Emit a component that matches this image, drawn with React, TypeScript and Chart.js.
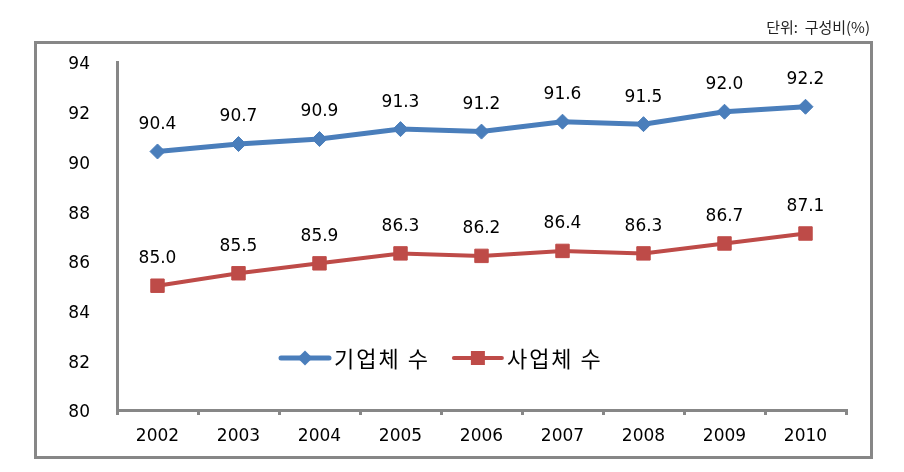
import React, { useEffect, useRef } from "react";
import { Chart, registerables } from "chart.js";

Chart.register(...registerables);

const categories = ["2002", "2003", "2004", "2005", "2006", "2007", "2008", "2009", "2010"];
const enterpriseCount = [90.4, 90.7, 90.9, 91.3, 91.2, 91.6, 91.5, 92.0, 92.2];
const establishmentCount = [85.0, 85.5, 85.9, 86.3, 86.2, 86.4, 86.3, 86.7, 87.1];
const seriesNames = ["기업체 수", "사업체 수"];
const yMin = 80;
const yMax = 94;
const yStep = 2;
const unitLabel = "단위:  구성비(%)";

const BLUE = "#4A7EBB";
const RED = "#BE4B48";
const GRAY = "#878787";
const NUM_FONT = "17px 'DejaVu Sans', Verdana, sans-serif";
const KR_FONT = "22px 'Noto Sans CJK KR', sans-serif";

const decorPlugin = {
  id: "decor",
  beforeDraw(chart: any) {
    const ctx = chart.ctx;
    ctx.save();
    ctx.fillStyle = "#ffffff";
    ctx.fillRect(0, 0, chart.width, chart.height);
    ctx.strokeStyle = GRAY;
    ctx.lineWidth = 3;
    ctx.strokeRect(35.5, 42.5, 836, 415);
    ctx.fillStyle = "#222";
    ctx.font = "15px 'Noto Sans CJK KR', sans-serif";
    ctx.textAlign = "right";
    ctx.textBaseline = "alphabetic";
    ctx.fillText(unitLabel, 870, 33);
    ctx.restore();
  },
  afterDatasetsDraw(chart: any) {
    const ctx = chart.ctx;
    ctx.save();
    ctx.font = NUM_FONT;
    ctx.fillStyle = "#000";
    ctx.textAlign = "center";
    ctx.textBaseline = "middle";
    chart.data.datasets.forEach((ds: any, di: number) => {
      const meta = chart.getDatasetMeta(di);
      meta.data.forEach((pt: any, i: number) => {
        ctx.fillText(Number(ds.data[i]).toFixed(1), pt.x, pt.y - 27);
      });
    });

    // legend
    const area = chart.chartArea;
    const ly = area.bottom - 52;
    let lx = area.left + 164;
    chart.data.datasets.forEach((ds: any) => {
      ctx.strokeStyle = ds.borderColor;
      ctx.lineWidth = ds.borderWidth;
      ctx.lineCap = "round";
      ctx.beginPath();
      ctx.moveTo(lx, ly);
      ctx.lineTo(lx + 48, ly);
      ctx.stroke();
      const cx = lx + 24;
      ctx.fillStyle = ds.pointBackgroundColor;
      ctx.beginPath();
      if (ds.pointStyle === "rectRot") {
        const r = 7.5;
        ctx.moveTo(cx - r, ly);
        ctx.lineTo(cx, ly - r);
        ctx.lineTo(cx + r, ly);
        ctx.lineTo(cx, ly + r);
        ctx.closePath();
      } else {
        ctx.rect(cx - 7, ly - 7, 14, 14);
      }
      ctx.fill();
      ctx.fillStyle = "#000";
      ctx.font = KR_FONT;
      (ctx as any).letterSpacing = "2px";
      ctx.textAlign = "left";
      ctx.textBaseline = "middle";
      ctx.fillText(ds.label, lx + 53, ly + 1);
      const w = ctx.measureText(ds.label).width;
      (ctx as any).letterSpacing = "0px";
      lx += 53 + w + 24;
    });
    ctx.restore();
  },
};

export default function App() {
  const ref = useRef<HTMLCanvasElement>(null);
  useEffect(() => {
    if (!ref.current) return;
    const chart = new Chart(ref.current, {
      type: "line",
      data: {
        labels: categories,
        datasets: [
          {
            label: seriesNames[0],
            data: enterpriseCount,
            borderColor: BLUE,
            backgroundColor: BLUE,
            pointBackgroundColor: BLUE,
            pointBorderColor: BLUE,
            borderWidth: 5,
            pointStyle: "rectRot",
            pointRadius: 7.5,
            pointBorderWidth: 1,
            tension: 0,
          } as any,
          {
            label: seriesNames[1],
            data: establishmentCount,
            borderColor: RED,
            backgroundColor: RED,
            pointBackgroundColor: RED,
            pointBorderColor: RED,
            borderWidth: 4,
            pointStyle: "rect",
            pointRadius: 9.5,
            pointBorderWidth: 1,
            tension: 0,
          } as any,
        ],
      },
      plugins: [decorPlugin],
      options: {
        animation: false,
        responsive: false,
        maintainAspectRatio: false,
        layout: { padding: { left: 0, top: 62, right: 58, bottom: 0 } },
        plugins: {
          legend: { display: false },
          tooltip: { enabled: false },
          title: { display: false },
        },
        scales: {
          x: {
            type: "category",
            offset: true,
            afterFit: (s: any) => {
              s.height = 62;
            },
            grid: {
              display: true,
              drawOnChartArea: false,
              drawTicks: true,
              tickLength: 5,
              offset: true,
              color: GRAY,
              lineWidth: 3,
            },
            border: { display: true, color: GRAY, width: 3 },
            ticks: {
              color: "#000",
              font: { family: "'DejaVu Sans', Verdana, sans-serif", size: 17 },
              padding: 11,
              maxRotation: 0,
            },
          },
          y: {
            min: yMin,
            max: yMax,
            afterFit: (s: any) => {
              s.width = 117;
            },
            grid: { display: false, drawTicks: false },
            border: { display: true, color: GRAY, width: 3 },
            ticks: {
              stepSize: yStep,
              color: "#000",
              font: { family: "'DejaVu Sans', Verdana, sans-serif", size: 17 },
              padding: 27,
              labelOffset: 3,
            },
          },
        },
      } as any,
    });
    return () => chart.destroy();
  }, []);
  return (
    <div style={{ position: "fixed", left: 0, top: 0, width: 904, height: 472, background: "#fff" }}>
      <canvas ref={ref} width={904} height={472} />
    </div>
  );
}
